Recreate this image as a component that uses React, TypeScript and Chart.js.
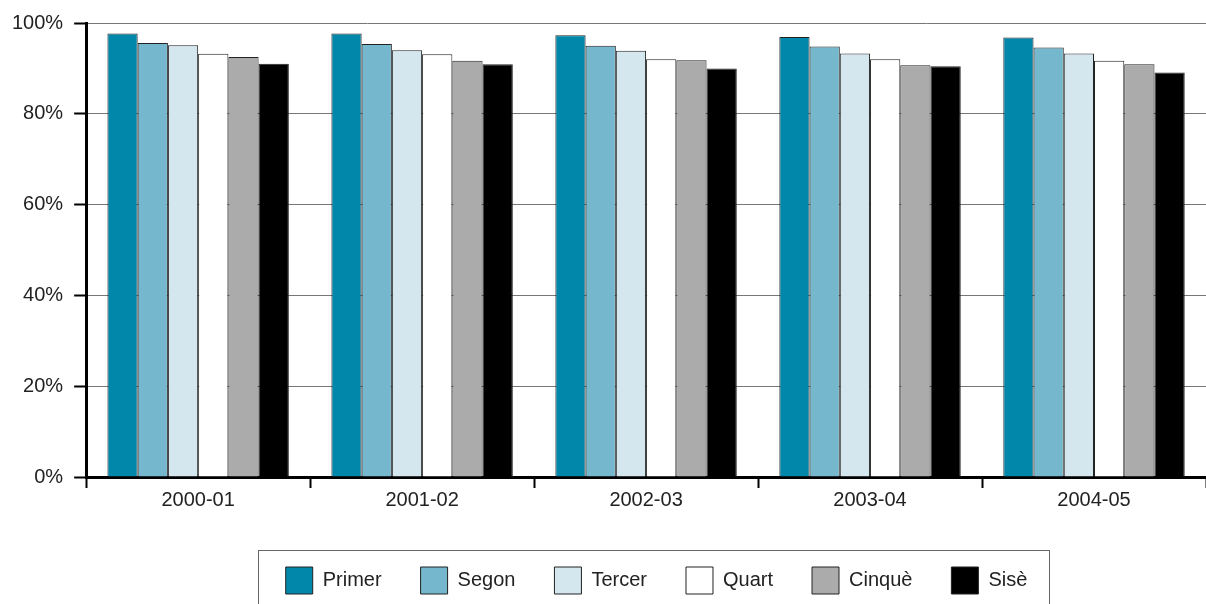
import React, { useEffect, useRef } from "react";
import { Chart, registerables } from "chart.js";

Chart.register(...registerables);

const categories = ["2000-01", "2001-02", "2002-03", "2003-04", "2004-05"];
const seriesNames = ["Primer", "Segon", "Tercer", "Quart", "Cinquè", "Sisè"];
const primer = [97.7, 97.7, 97.3, 96.9, 96.8];
const segon = [95.6, 95.4, 95.0, 94.8, 94.6];
const tercer = [95.1, 94.0, 93.9, 93.3, 93.3];
const quart = [93.2, 93.1, 92.0, 92.0, 91.7];
const cinque = [92.5, 91.7, 91.8, 90.7, 90.9];
const sise = [91.0, 90.9, 90.0, 90.5, 89.1];
const yTicks = [0, 20, 40, 60, 80, 100];

const seriesValues = [primer, segon, tercer, quart, cinque, sise];
const seriesColors = ["#0087AA", "#75B7CD", "#D4E7EF", "#FFFFFF", "#ABABAB", "#000000"];

const FONT = "'Liberation Sans', Arial, Helvetica, sans-serif";
const LEGEND_SHIFT = 106;

const legendFramePlugin = {
  id: "legendFrame",
  afterLayout(chart: any) {
    const lg = chart.legend;
    if (lg && !lg._shifted) {
      lg.left += LEGEND_SHIFT;
      lg._shifted = true;
    }
  },
  beforeUpdate(chart: any) {
    if (chart.legend) chart.legend._shifted = false;
  },
  afterDraw(chart: any) {
    const lg = chart.legend;
    if (!lg || !lg.lineWidths) return;
    const pad = lg.options.labels.padding;
    const lw = lg.lineWidths[0];
    const rowStart = (lg.left + pad + lg.right - lw) / 2;
    const rowEnd = rowStart + lw - pad;
    const boxTop = lg.top + pad;
    const ctx = chart.ctx;
    ctx.save();
    ctx.strokeStyle = "#666";
    ctx.lineWidth = 1;
    ctx.strokeRect(Math.round(rowStart - 28) + 0.5, Math.round(boxTop - 17) + 0.5, Math.round(rowEnd + 21 - (rowStart - 28)), 80);
    ctx.restore();
  },
};

export default function App() {
  const ref = useRef<HTMLCanvasElement>(null);
  useEffect(() => {
    if (!ref.current) return;
    document.body.style.margin = "0";
    Chart.defaults.font.family = FONT;
    Chart.defaults.color = "#222";
    const chart = new Chart(ref.current, {
      type: "bar",
      data: {
        labels: categories,
        datasets: seriesNames.map((name, i) => ({
          label: name,
          data: seriesValues[i],
          backgroundColor: seriesColors[i],
          borderColor: "#222",
          borderWidth: 1,
          categoryPercentage: 0.81,
          barPercentage: 1.0,
        })),
      },
      options: {
        responsive: false,
        animation: false,
        devicePixelRatio: 1,
        layout: { padding: { left: 1, top: 19, right: 0, bottom: 0 } },
        plugins: {
          title: { display: false },
          tooltip: { enabled: false },
          legend: {
            display: true,
            position: "bottom",
            labels: {
              boxWidth: 27,
              boxHeight: 27,
              padding: 39,
              font: { size: 20, family: FONT },
              color: "#222",
            },
          },
        },
        scales: {
          x: {
            grid: {
              display: true,
              drawOnChartArea: false,
              drawTicks: true,
              tickLength: 11,
              tickColor: "#000",
              tickWidth: 2,
              offset: true,
            },
            border: { display: true, color: "#000", width: 3 },
            ticks: { padding: 0, font: { size: 20, family: FONT }, color: "#222" },
            afterFit: (scale: any) => {
              scale.height += 16;
            },
          },
          y: {
            min: 0,
            max: 100,
            afterBuildTicks: (scale: any) => {
              scale.ticks = yTicks.map((v) => ({ value: v }));
            },
            grid: {
              color: "#777",
              lineWidth: 1,
              drawTicks: true,
              tickLength: 12,
              tickColor: "#000",
              tickWidth: 2,
            },
            border: { display: true, color: "#000", width: 3 },
            ticks: {
              padding: 11,
              font: { size: 20, family: FONT },
              color: "#222",
              callback: (v: any) => v + "%",
            },
          },
        },
      },
      plugins: [legendFramePlugin],
    });
    return () => chart.destroy();
  }, []);
  return (
    <div style={{ position: "absolute", left: 0, top: 0, width: 1206, height: 604 }}>
      <canvas ref={ref} width={1206} height={604} />
    </div>
  );
}
